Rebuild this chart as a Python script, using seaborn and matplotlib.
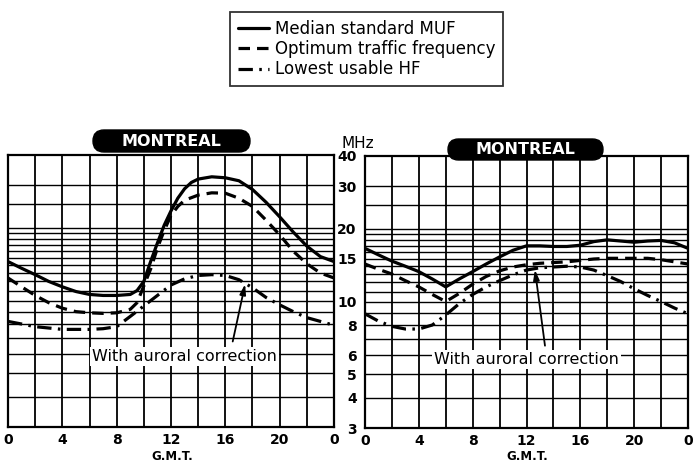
import matplotlib
matplotlib.use("Agg")
import matplotlib.pyplot as plt
from matplotlib.patches import FancyBboxPatch
import seaborn as sns
import numpy as np

# ---------------- data ----------------
HOURS_L_MUF = [0, 1, 2, 3, 4, 5, 6, 7, 8, 9, 9.5, 10, 10.5, 11, 11.5, 12, 12.5, 13, 13.5, 14, 15, 16, 17, 18, 19, 20, 21, 22, 23, 24]
LEFT_MUF = [14.5, 13.6, 12.8, 12.0, 11.4, 10.9, 10.6, 10.5, 10.5, 10.6, 11.0, 12.0, 14.5, 17.3, 20.5, 23.5, 26.5, 29.0, 30.8, 31.8, 32.5, 32.2, 31.3, 28.8, 25.5, 22.2, 19.2, 16.8, 15.2, 14.5]

HOURS_L_OTF = [0, 1, 2, 3, 4, 5, 6, 7, 8, 9, 9.5, 10, 10.5, 11, 11.5, 12, 12.5, 13, 14, 15, 16, 17, 18, 19, 20, 21, 22, 23, 24]
LEFT_OTF = [12.4, 11.4, 10.5, 9.8, 9.3, 9.0, 8.9, 8.85, 8.9, 9.2, 9.8, 11.5, 13.5, 16.5, 19.5, 22.5, 24.5, 26.0, 27.3, 27.9, 27.8, 26.5, 24.5, 21.5, 18.7, 16.0, 14.2, 13.0, 12.4]

HOURS_L_LUF = [0, 1, 2, 3, 4, 5, 6, 7, 8, 9, 10, 11, 12, 13, 14, 15, 16, 17, 18, 19, 20, 21, 22, 23, 24]
LEFT_LUF = [8.2, 8.0, 7.8, 7.7, 7.6, 7.6, 7.6, 7.65, 7.8, 8.6, 9.5, 10.5, 11.6, 12.3, 12.7, 12.8, 12.7, 12.2, 11.3, 10.3, 9.6, 9.0, 8.5, 8.2, 7.9]

HOURS_R = [0, 1, 2, 3, 4, 5, 6, 7, 8, 9, 10, 11, 12, 13, 14, 15, 16, 17, 18, 19, 20, 21, 22, 23, 24]
RIGHT_MUF = [16.6, 15.6, 14.7, 14.0, 13.3, 12.4, 11.5, 12.4, 13.3, 14.3, 15.3, 16.3, 17.0, 17.0, 16.9, 16.9, 17.1, 17.7, 18.0, 17.8, 17.6, 17.8, 17.9, 17.5, 16.6]
RIGHT_OTF = [14.3, 13.6, 13.0, 12.2, 11.5, 10.7, 10.0, 10.8, 11.8, 12.7, 13.4, 13.9, 14.2, 14.4, 14.5, 14.6, 14.8, 15.0, 15.1, 15.1, 15.1, 15.1, 14.9, 14.6, 14.3]
RIGHT_LUF = [8.9, 8.3, 7.9, 7.7, 7.7, 8.0, 8.8, 9.8, 10.7, 11.5, 12.2, 12.9, 13.5, 13.8, 13.9, 14.0, 13.9, 13.5, 12.8, 12.1, 11.3, 10.6, 10.0, 9.4, 8.9]

SERIES_LABELS = ["Median standard MUF", "Optimum traffic frequency", "Lowest usable HF"]
PANEL_TITLE = "MONTREAL"
Y_TICKS = [3, 4, 5, 6, 8, 10, 15, 20, 30, 40]
Y_TICK_LABELS = ["3", "4", "5", "6", "8", "10", "15", "20", "30", "40"]
X_TICKS = [0, 4, 8, 12, 16, 20, 24]
X_TICK_LABELS = ["0", "4", "8", "12", "16", "20", "0"]
H_GRID = [4, 5, 6, 7, 8, 9, 10, 11, 12, 13, 14, 15, 16, 17, 18, 19, 20, 25, 30]
V_GRID = list(range(2, 24, 2))
ANNOT = "With auroral correction"

# ---------------- figure ----------------
sns.set_style("white")
plt.rcParams["font.family"] = ["DejaVu Sans"]
plt.rcParams["text.color"] = "black"
plt.rcParams["xtick.color"] = "black"
plt.rcParams["ytick.color"] = "black"
plt.rcParams["axes.labelcolor"] = "black"

W, H = 693, 468
fig = plt.figure(figsize=(W / 100, H / 100), dpi=100)

def px_axes(x0, y0, x1, y1):
    return fig.add_axes([x0 / W, 1 - y1 / H, (x1 - x0) / W, (y1 - y0) / H])

axL = px_axes(8, 155, 334, 427)
axR = px_axes(365, 156, 688, 428)

styles = ["-", (0, (3.6, 2.2)), (0, (4.5, 2.0, 0.8, 2.0))]

handles = []
for ax, hrs, series in [
    (axL, [HOURS_L_MUF, HOURS_L_OTF, HOURS_L_LUF], [LEFT_MUF, LEFT_OTF, LEFT_LUF]),
    (axR, [HOURS_R, HOURS_R, HOURS_R], [RIGHT_MUF, RIGHT_OTF, RIGHT_LUF]),
]:
    ax.set_yscale("log")
    ax.set_xlim(0, 24)
    ax.set_ylim(3, 40)
    for g in H_GRID:
        ax.axhline(g, color="black", lw=1.0, zorder=1)
    for g in V_GRID:
        ax.axvline(g, color="black", lw=1.3, zorder=1)
    for i, (h, v) in enumerate(zip(hrs, series)):
        sns.lineplot(x=h, y=v, ax=ax, color="black", lw=2.3, linestyle=styles[i],
                     sort=False, estimator=None, label=SERIES_LABELS[i], zorder=3,
                     legend=False)
        ax.lines[-1].set_solid_joinstyle("round")
        ax.lines[-1].set_dash_joinstyle("round")
        if ax is axL:
            handles.append(ax.lines[-1])
    for s in ax.spines.values():
        s.set_visible(True)
        s.set_linewidth(1.6)
        s.set_color("black")
    ax.set_xticks(X_TICKS)
    ax.set_xticklabels(X_TICK_LABELS, fontweight="bold", fontsize=10, color="black")
    ax.tick_params(axis="x", length=0, pad=4, labelcolor="black")
    ax.minorticks_off()
    ax.set_xlabel("")
    ax.set_ylabel("")

axL.set_yticks([])
axL.yaxis.set_minor_locator(matplotlib.ticker.NullLocator())
axR.set_yticks(Y_TICKS)
axR.set_yticklabels(Y_TICK_LABELS, fontweight="bold", fontsize=10, color="black")
axR.yaxis.set_minor_locator(matplotlib.ticker.NullLocator())
axR.tick_params(axis="y", length=0, pad=6, labelcolor="black")

# G.M.T. labels
for xc in (172, 527):
    fig.text(xc / W, 1 - 456 / H, "G.M.T.", ha="center", va="center",
             fontweight="bold", fontsize=8.5, color="black")

fig.text(358 / W, 1 - 143 / H, "MHz", ha="center", va="center", fontsize=11, color="black")

# Title pills
for (x0, y0, x1, y1) in [(93, 130, 250, 152), (448, 139, 603, 160)]:
    hgt = (y1 - y0) / 100
    p = FancyBboxPatch((x0 / 100, (H - y1) / 100), (x1 - x0) / 100, hgt,
                       boxstyle=f"round,pad=0,rounding_size={hgt / 2}",
                       transform=fig.dpi_scale_trans, facecolor="black",
                       edgecolor="black", zorder=10)
    fig.patches.append(p)
    fig.text((x0 + x1) / 2 / W, 1 - (y0 + y1) / 2 / H, PANEL_TITLE, color="white",
             ha="center", va="center", fontweight="bold", fontsize=11.5, zorder=11)

# Annotations
axL.annotate("", xy=(17.5, 12.0), xytext=(16.5, 6.6),
             arrowprops=dict(arrowstyle="-|>,head_length=0.6,head_width=0.18",
                             color="black", lw=1.3), zorder=4)
axL.text(13.0, 5.85, ANNOT, ha="center", va="center", fontsize=11.5, zorder=5,
         color="black", bbox=dict(facecolor="white", edgecolor="none", pad=1.5))
axR.annotate("", xy=(12.6, 13.9), xytext=(13.4, 6.4),
             arrowprops=dict(arrowstyle="-|>,head_length=0.6,head_width=0.18",
                             color="black", lw=1.3), zorder=4)
axR.text(12.0, 5.76, ANNOT, ha="center", va="center", fontsize=11.5, zorder=5,
         color="black", bbox=dict(facecolor="white", edgecolor="none", pad=1.5))

# Legend
leg = fig.legend(handles, SERIES_LABELS, loc="upper left",
                 bbox_to_anchor=(230 / W, 1 - 12 / H), frameon=True, fancybox=False,
                 fontsize=12, handlelength=1.9, handletextpad=0.35, labelspacing=0.15,
                 borderpad=0.45, borderaxespad=0, labelcolor="black")
leg.get_frame().set_edgecolor("black")
leg.get_frame().set_linewidth(1.3)

fig.savefig("out.png", dpi=100, facecolor="white")
